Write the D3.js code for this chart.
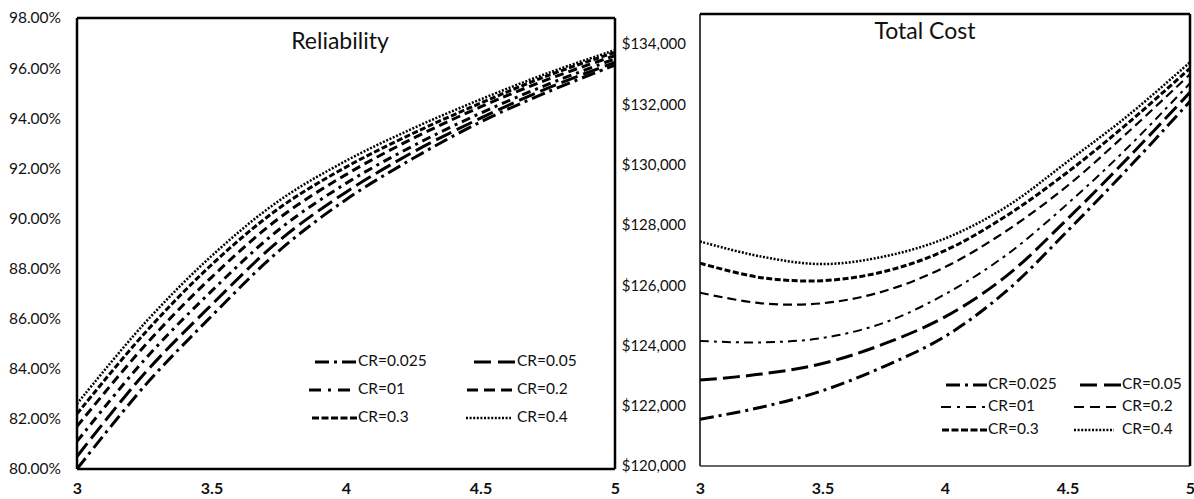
<!DOCTYPE html>
<html>
<head>
<meta charset="utf-8">
<script src="https://cdn.jsdelivr.net/npm/d3@7"></script>
<style>
  body { margin: 0; background: #fff; }
  svg { display: block; font-family: Lato, "Open Sans", sans-serif; }
</style>
</head>
<body>
<div id="chart"></div>
<script>
// x values shared by both panels
const xs = [3, 3.25, 3.5, 3.75, 4, 4.25, 4.5, 4.75, 5];
const labels = ["CR=0.025", "CR=0.05", "CR=01", "CR=0.2", "CR=0.3", "CR=0.4"];

// reliability (fraction)
const rel025 = [0.800, 0.833, 0.861, 0.887, 0.9075, 0.924, 0.9385, 0.9505, 0.9612];
const rel05  = [0.805, 0.838, 0.8655, 0.891, 0.9105, 0.9265, 0.940, 0.952, 0.9623];
const rel01  = [0.811, 0.8435, 0.871, 0.8955, 0.914, 0.929, 0.942, 0.9535, 0.9637];
const rel2   = [0.817, 0.849, 0.8765, 0.900, 0.9175, 0.932, 0.9445, 0.9555, 0.965];
const rel3   = [0.822, 0.854, 0.8815, 0.904, 0.9205, 0.934, 0.946, 0.957, 0.9663];
const rel4   = [0.826, 0.858, 0.885, 0.907, 0.923, 0.936, 0.9475, 0.958, 0.9672];

// total cost ($)
const cost025 = [121550, 121950, 122500, 123300, 124300, 125800, 127800, 129900, 132100];
const cost05  = [122850, 123050, 123400, 124050, 124950, 126300, 128200, 130250, 132400];
const cost01  = [124150, 124100, 124250, 124750, 125700, 127000, 128700, 130600, 132700];
const cost2   = [125750, 125400, 125400, 125800, 126600, 127800, 129300, 131100, 133000];
const cost3   = [126730, 126250, 126150, 126450, 127150, 128300, 129750, 131400, 133200];
const cost4   = [127450, 126950, 126700, 126950, 127550, 128600, 130100, 131650, 133400];

const xTicks = [3, 3.5, 4, 4.5, 5];
const relTicks = [0.80, 0.82, 0.84, 0.86, 0.88, 0.90, 0.92, 0.94, 0.96, 0.98];
const costTicks = [120000, 122000, 124000, 126000, 128000, 130000, 132000, 134000];

// line styles per series (same order as labels); leg = legend sample pattern
const styles = [
  { dash: "14,5,3,5", w: 3, leg: "14,5,3,5", len: 41 },
  { dash: "17,6", w: 3, leg: "17,7", len: 41 },
  { dash: "9,5,3,5", w: 3, leg: "12,7,3,7", len: 41 },
  { dash: "9,5", w: 3, leg: "11,6", len: 45 },
  { dash: "6,2.5", w: 3, leg: "7,2.5", len: 45 },
  { dash: "2,1.6", w: 2.5, leg: "2,1.6", len: 45 }
];
const stylesR = [
  { dash: "14,5,3,5", w: 3, leg: "14,5,3,5", len: 41 },
  { dash: "17,6", w: 3, leg: "17,7", len: 41 },
  { dash: "9,5,3,5", w: 2, leg: "10,6,3,6", len: 45 },
  { dash: "9,5", w: 2.2, leg: "10,6", len: 42 },
  { dash: "6,2.5", w: 3, leg: "7,2.5", len: 45 },
  { dash: "2,1.6", w: 2.5, leg: "2,1.6", len: 40 }
];

const W = 1194, H = 499;
const svg = d3.select("#chart").append("svg").attr("width", W).attr("height", H);

function panel(opt) {
  const x = d3.scaleLinear().domain([3, 5]).range([opt.left, opt.right]);
  const y = d3.scaleLinear().domain(opt.yDomain).range([opt.bottom, opt.top]);
  const g = svg.append("g");

  const clipId = "clip" + opt.id;
  svg.append("clipPath").attr("id", clipId)
    .append("rect")
    .attr("x", opt.left).attr("y", opt.top)
    .attr("width", opt.right - opt.left).attr("height", opt.bottom - opt.top);

  // y axis labels
  g.append("g")
    .attr("transform", `translate(${opt.left},0)`)
    .call(d3.axisLeft(y).tickValues(opt.yTicks).tickFormat(opt.yFormat).tickSize(0).tickPadding(opt.yPad))
    .call((a) => a.select(".domain").remove())
    .selectAll("text")
    .style("font-family", "Lato, sans-serif")
    .style("font-size", opt.yFont)
    .attr("fill", "#111");

  // x axis labels
  g.append("g")
    .attr("transform", `translate(0,${opt.bottom})`)
    .call(d3.axisBottom(x).tickValues(xTicks).tickFormat(d3.format("")).tickSize(0).tickPadding(opt.xPad))
    .call((a) => a.select(".domain").remove())
    .selectAll("text")
    .style("font-family", "Lato, sans-serif")
    .style("font-size", "16px")
    .style("font-weight", "bold")
    .attr("fill", "#111");

  // series
  const line = d3.line()
    .x((d, i) => x(xs[i]))
    .y((d) => y(d))
    .curve(d3.curveCatmullRom);

  g.append("g")
    .attr("clip-path", `url(#${clipId})`)
    .selectAll("path")
    .data(opt.series)
    .join("path")
    .attr("d", line)
    .attr("fill", "none")
    .attr("stroke", "#000")
    .attr("stroke-width", (d, i) => opt.styles[i].w)
    .attr("stroke-dasharray", (d, i) => opt.styles[i].dash);

  // frame
  g.append("line").attr("x1", opt.left).attr("x2", opt.right).attr("y1", opt.top).attr("y2", opt.top)
    .attr("stroke", "#000").attr("stroke-width", opt.frameTop);
  g.append("line").attr("x1", opt.right).attr("x2", opt.right).attr("y1", opt.top).attr("y2", opt.bottom)
    .attr("stroke", "#000").attr("stroke-width", opt.frameRight);
  g.append("line").attr("x1", opt.left).attr("x2", opt.left).attr("y1", opt.top).attr("y2", opt.bottom)
    .attr("stroke", "#000").attr("stroke-width", opt.frameLeft);
  g.append("line").attr("x1", opt.left).attr("x2", opt.right).attr("y1", opt.bottom).attr("y2", opt.bottom)
    .attr("stroke", opt.bottomColor).attr("stroke-width", opt.frameBottom);

  // title
  g.append("text")
    .attr("x", opt.titleX).attr("y", opt.titleY)
    .attr("text-anchor", "middle")
    .attr("dominant-baseline", "middle")
    .style("font-size", "23px")
    .attr("fill", "#111")
    .text(opt.title);

  // legend, 2 columns x 3 rows; text starts at a fixed x per column
  const leg = g.append("g");
  labels.forEach((lab, i) => {
    const col = i % 2, row = Math.floor(i / 2);
    const tx = opt.legTextX[col], ly = opt.legY[row];
    const end = tx - opt.legGap[i];
    leg.append("line")
      .attr("x1", end - opt.styles[i].len).attr("x2", end)
      .attr("y1", ly).attr("y2", ly)
      .attr("stroke", "#000")
      .attr("stroke-width", opt.styles[i].w)
      .attr("stroke-dasharray", opt.styles[i].leg);
    leg.append("text")
      .attr("x", tx).attr("y", ly)
      .attr("dominant-baseline", "middle")
      .style("font-size", "15.5px")
      .attr("fill", "#111")
      .text(lab);
  });
}

panel({
  id: "rel",
  left: 77, right: 615, top: 18, bottom: 469,
  yDomain: [0.80, 0.98], yTicks: relTicks, yFormat: d3.format(".2%"), yPad: 16, yFont: "15.5px",
  xPad: 14,
  series: [rel025, rel05, rel01, rel2, rel3, rel4],
  styles: styles,
  frameTop: 2.5, frameRight: 2.5, frameLeft: 2.5, frameBottom: 2.5, bottomColor: "#000",
  title: "Reliability", titleX: 340, titleY: 43,
  legTextX: [358, 517], legY: [362, 390, 418],
  legGap: [2, 2, 8, 5, 1, 6]
});

panel({
  id: "cost",
  left: 700, right: 1190, top: 14, bottom: 466,
  yDomain: [120000, 135000], yTicks: costTicks, yFormat: d3.format("$,"), yPad: 14, yFont: "15px",
  xPad: 17,
  series: [cost025, cost05, cost01, cost2, cost3, cost4],
  styles: stylesR,
  frameTop: 2.5, frameRight: 2.5, frameLeft: 1.5, frameBottom: 1.5, bottomColor: "#333",
  title: "Total Cost", titleX: 925, titleY: 33,
  legTextX: [988, 1122], legY: [385, 407, 430],
  legGap: [1, 1, 2, 6, 1, 8]
});
</script>
</body>
</html>
